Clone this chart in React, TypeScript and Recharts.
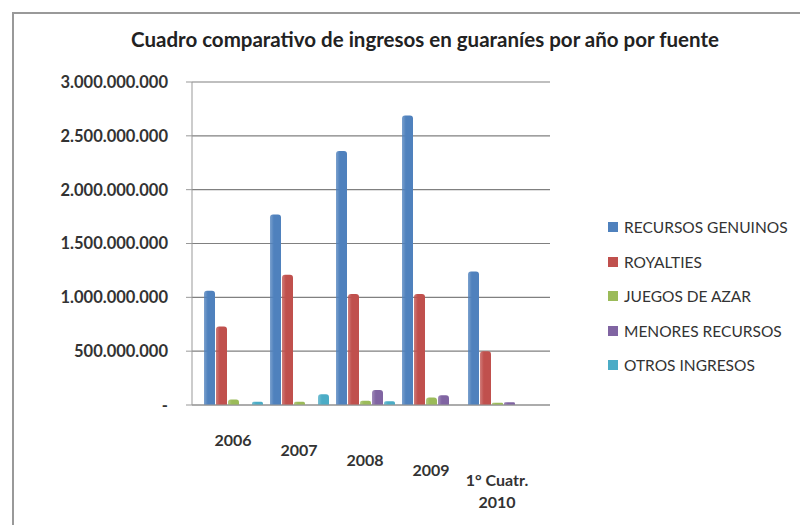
import React from 'react';
import { BarChart, Bar, XAxis, YAxis, CartesianGrid } from 'recharts';

const years = ['2006', '2007', '2008', '2009', '1° Cuatr.\n2010'];
const recursosGenuinos = [1060000000, 1770000000, 2360000000, 2690000000, 1240000000];
const royalties = [730000000, 1210000000, 1030000000, 1030000000, 500000000];
const juegosDeAzar = [50000000, 30000000, 40000000, 70000000, 20000000];
const menoresRecursos = [0, 0, 140000000, 90000000, 25000000];
const otrosIngresos = [30000000, 100000000, 35000000, 0, 0];
const yTicks = [0, 500000000, 1000000000, 1500000000, 2000000000, 2500000000, 3000000000];

const SERIES = [
  { key: 'rg', name: 'RECURSOS GENUINOS', color: '#4F81BD', values: recursosGenuinos },
  { key: 'ro', name: 'ROYALTIES', color: '#C0504D', values: royalties },
  { key: 'ja', name: 'JUEGOS DE AZAR', color: '#9BBB59', values: juegosDeAzar },
  { key: 'mr', name: 'MENORES RECURSOS', color: '#8064A2', values: menoresRecursos },
  { key: 'oi', name: 'OTROS INGRESOS', color: '#4BACC6', values: otrosIngresos },
];

const data = years.map((year, i) => {
  const row: any = { year };
  SERIES.forEach((s) => (row[s.key] = s.values[i]));
  return row;
});

const FONT = 'Lato, "Open Sans", sans-serif';

const fmt = (v: number) => (v === 0 ? '-' : String(v).replace(/\B(?=(\d{3})+(?!\d))/g, '.'));

const YearTick = (props: any) => {
  const { x, y, payload, index } = props;
  const lines = String(payload.value).split('\n');
  const drop = 33 + index * 10;
  return (
    <text x={x} y={y + drop} textAnchor="middle" fontFamily={FONT} fontSize={16} fontWeight={700} fill="#333">
      {lines.map((l, i) => (
        <tspan key={i} x={x} dy={i === 0 ? 0 : 22}>
          {l}
        </tspan>
      ))}
    </text>
  );
};

const LegendBox = () => (
  <div style={{ position: 'absolute', left: 608, top: 210, fontFamily: FONT, fontSize: 15.5, color: '#333' }}>
    {SERIES.map((s) => (
      <div key={s.key} style={{ display: 'flex', alignItems: 'center', height: 34.5 }}>
        <span style={{ width: 10, height: 10, background: s.color, marginRight: 6, display: 'inline-block' }} />
        {s.name}
      </div>
    ))}
  </div>
);

export default function App() {
  return (
    <div style={{ position: 'absolute', left: 0, top: 0, width: 800, height: 525, background: '#fff', overflow: 'hidden' }}>
      <div style={{ position: 'absolute', left: 12, top: 12, width: 800, height: 525, borderLeft: '2px solid #999', borderTop: '2px solid #999' }} />
      <div
        style={{
          position: 'absolute', top: 27, left: 12, width: 826, textAlign: 'center',
          fontFamily: FONT, fontWeight: 700, fontSize: 20.5, color: '#222',
        }}
      >
        Cuadro comparativo de ingresos en guaraníes por año por fuente
      </div>
      <BarChart
        width={800}
        height={525}
        data={data}
        margin={{ top: 82, right: 250, bottom: 90, left: 0 }}
        barSize={11}
        barGap={1}
        barCategoryGap={6}
        style={{ position: 'absolute', left: 0, top: 0 }}
      >
        <defs>
          {SERIES.map((s) => (
            <linearGradient key={s.key} id={`g-${s.key}`} x1="0" y1="0" x2="1" y2="0">
              <stop offset="0%" stopColor={s.color} stopOpacity={0.75} />
              <stop offset="35%" stopColor={s.color} stopOpacity={1} />
              <stop offset="100%" stopColor={s.color} stopOpacity={1} />
            </linearGradient>
          ))}
        </defs>
        <CartesianGrid vertical={false} stroke="#808080" strokeWidth={1.2} />
        <XAxis
          dataKey="year"
          interval={0}
          height={30}
          stroke="#999"
          tickLine={false}
          padding={{ left: 8, right: 20 }}
          tick={<YearTick />}
        />
        <YAxis
          width={192}
          domain={[0, 3000000000]}
          ticks={yTicks}
          tickFormatter={fmt}
          stroke="#999"
          tickSize={6}
          tickMargin={18}
          tick={{ fontFamily: FONT, fontSize: 16.5, fontWeight: 700, fill: '#333' }}
        />
        {SERIES.map((s) => (
          <Bar
            key={s.key}
            dataKey={s.key}
            name={s.name}
            fill={`url(#g-${s.key})`}
            radius={[3, 3, 0, 0]}
            isAnimationActive={false}
          />
        ))}
      </BarChart>
      <LegendBox />
    </div>
  );
}
